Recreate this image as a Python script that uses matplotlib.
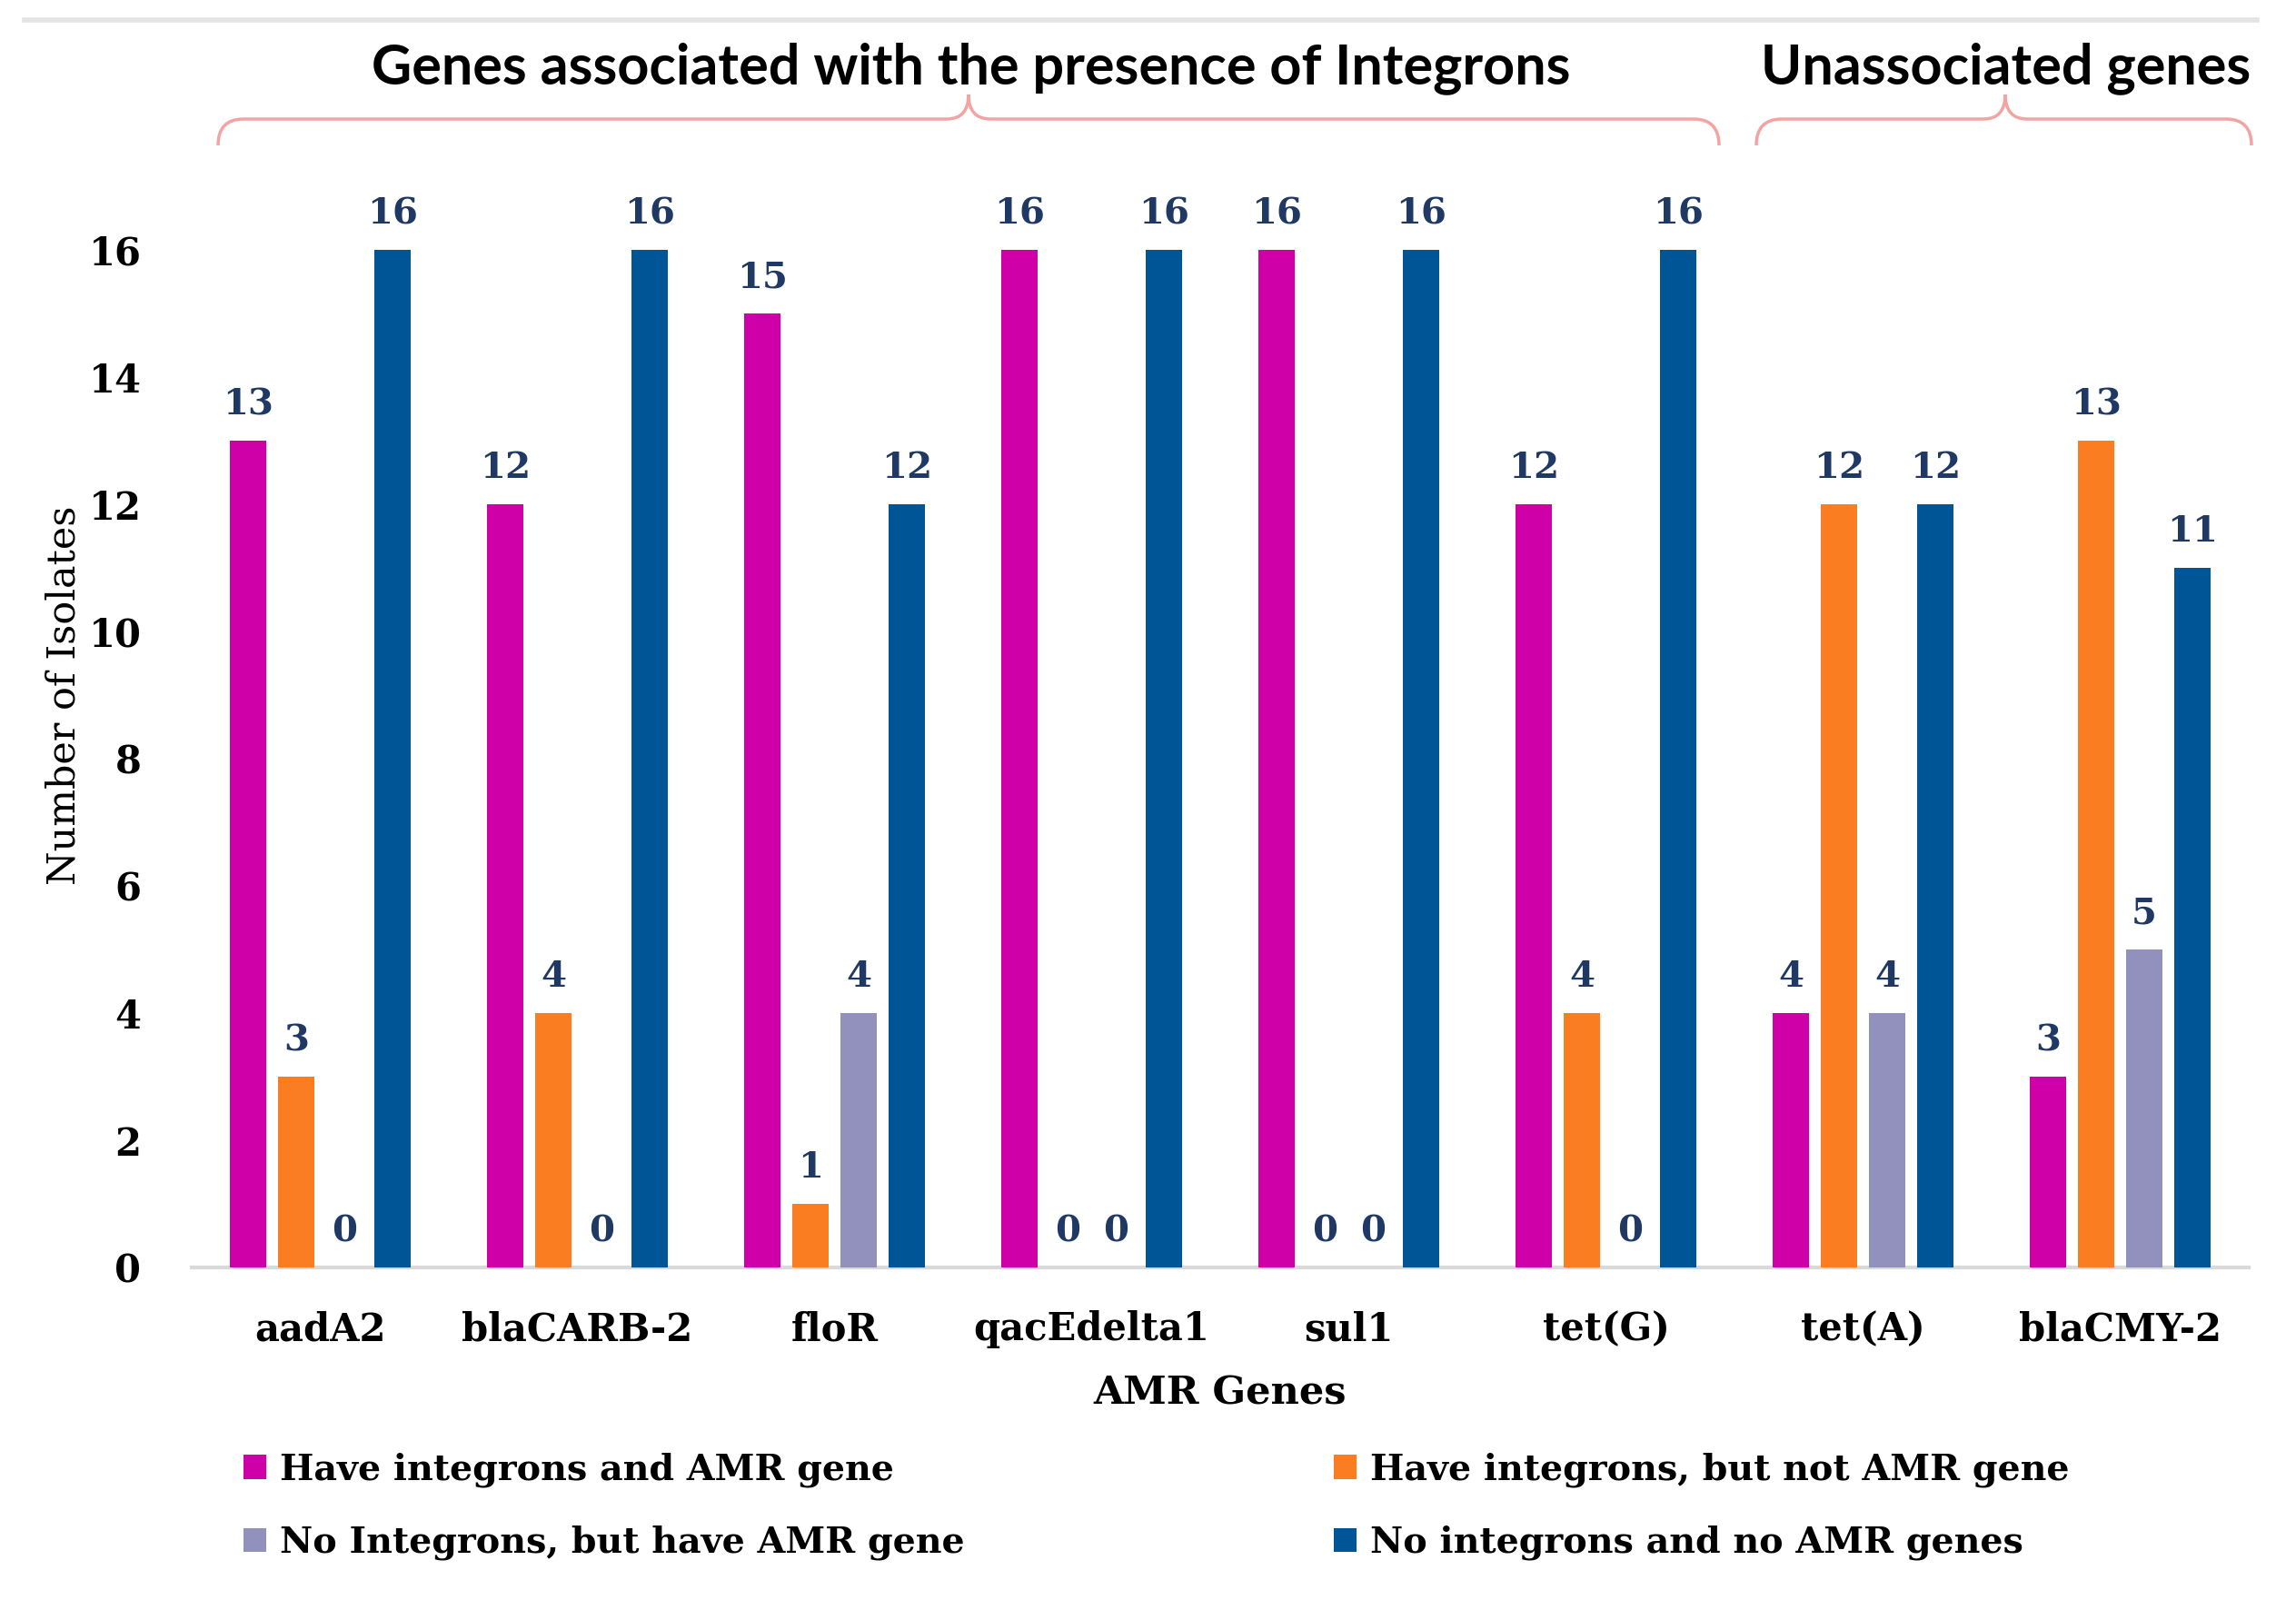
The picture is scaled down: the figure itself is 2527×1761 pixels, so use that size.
import matplotlib
matplotlib.use("Agg")
import matplotlib.pyplot as plt
import numpy as np
from matplotlib.path import Path
from matplotlib.patches import PathPatch
from matplotlib.lines import Line2D

# ---------------- data ----------------
genes = ["aadA2", "blaCARB-2", "floR", "qacEdelta1", "sul1", "tet(G)", "tet(A)", "blaCMY-2"]
series_names = ["Have integrons and AMR gene",
                "Have integrons, but not AMR gene",
                "No Integrons, but have AMR gene",
                "No integrons and no AMR genes"]
have_int_amr = [13, 12, 15, 16, 16, 12, 4, 3]
have_int_no_amr = [3, 4, 1, 0, 0, 4, 12, 13]
no_int_have_amr = [0, 0, 4, 0, 0, 0, 4, 5]
no_int_no_amr = [16, 16, 12, 16, 16, 16, 12, 11]
yticks = [0, 2, 4, 6, 8, 10, 12, 14, 16]
group_titles = ["Genes associated with the presence of Integrons", "Unassociated genes"]

colors = ["#CF00A8", "#FB7D22", "#9291BE", "#005596"]
label_color = "#1F3864"

W, H = 2527, 1761
fig = plt.figure(figsize=(W / 100, H / 100), dpi=100)

def fx(px):
    return px / W

def fy(py):  # py measured from top
    return 1 - py / H

# axes placement
ax_left, ax_right, y0_px = 211, 2475, 1395
px_per_unit = 70.0
ytop = 17.5
ax = fig.add_axes([fx(ax_left), fy(y0_px), (ax_right - ax_left) / W, ytop * px_per_unit / H])

serif = "DejaVu Serif"
series = [have_int_amr, have_int_no_amr, no_int_have_amr, no_int_no_amr]
x = np.arange(len(genes))
width = 0.142
step = 0.187
containers = []
for i, vals in enumerate(series):
    c = ax.bar(x + (i - 1.5) * step, vals, width=width, color=colors[i], label=series_names[i], zorder=3)
    containers.append(c)
    ax.bar_label(c, labels=[str(v) for v in vals], padding=15, color=label_color,
                 fontsize=29, fontweight="bold", family=serif)

ax.set_xlim(-0.5, len(genes) - 0.5)
ax.set_ylim(0, ytop)
ax.set_yticks(yticks)
ax.set_yticklabels([str(t) for t in yticks], fontsize=30, fontweight="bold", family=serif)
ax.set_xticks(x)
ax.set_xticklabels(genes, fontsize=30, fontweight="bold", family=serif)
ax.tick_params(axis="y", length=0, pad=40)
ax.tick_params(axis="x", length=0, pad=34)
for s in ["top", "right", "left"]:
    ax.spines[s].set_visible(False)
ax.spines["bottom"].set_color("#D9D9D9")
ax.spines["bottom"].set_linewidth(3)
ax.spines["bottom"].set_zorder(2)

ax.set_xlabel("AMR Genes", fontsize=31, fontweight="bold", family=serif, labelpad=20)
ax.set_ylabel("Number of Isolates", fontsize=31, family=serif, labelpad=12)
ax.yaxis.set_label_coords(-0.053, 9.0 / ytop)

# top grey line
fig.add_artist(Line2D([fx(27), fx(2484)], [fy(22), fy(22)], color="#E4E4E4", lw=4,
                      transform=fig.transFigure))

# braces
def brace(x0, xm, x1, y_end=160, y_h=131, y_t=104, cr=28, tr=24):
    verts = [
        (x0, y_end), (x0, y_h), (x0 + cr, y_h),
        (xm - tr, y_h),
        (xm, y_h), (xm, y_t),
        (xm, y_h), (xm + tr, y_h),
        (x1 - cr, y_h),
        (x1, y_h), (x1, y_end),
    ]
    codes = [Path.MOVETO, Path.CURVE3, Path.CURVE3,
             Path.LINETO,
             Path.CURVE3, Path.CURVE3,
             Path.CURVE3, Path.CURVE3,
             Path.LINETO,
             Path.CURVE3, Path.CURVE3]
    verts = [(fx(a), fy(b)) for a, b in verts]
    p = PathPatch(Path(verts, codes), facecolor="none", edgecolor="#F4A3A3", lw=2.5,
                  transform=fig.transFigure)
    fig.add_artist(p)

brace(240, 1066, 1892)
brace(1933, 2207, 2478)

fig.text(fx(1069), fy(75), group_titles[0], ha="center", va="center", fontsize=44,
         fontweight="bold", family="Lato", color="black")
fig.text(fx(2208), fy(75), group_titles[1], ha="center", va="center", fontsize=44,
         fontweight="bold", family="Lato", color="black")

# legends
leg_kw = dict(frameon=False, loc="center left", ncol=1, borderpad=0, borderaxespad=0,
              handlelength=0.62, handleheight=0.66, handletextpad=0.4, labelspacing=1.05,
              prop={"family": serif, "weight": "bold", "size": 28.5})
h = containers
l1 = fig.legend([h[0], h[2]], [series_names[0], series_names[2]],
                bbox_to_anchor=(fx(268), fy(1658)), **leg_kw)
l2 = fig.legend([h[1], h[3]], [series_names[1], series_names[3]],
                bbox_to_anchor=(fx(1468), fy(1658)), **leg_kw)

fig.savefig("out.png", dpi=100, facecolor="white")
